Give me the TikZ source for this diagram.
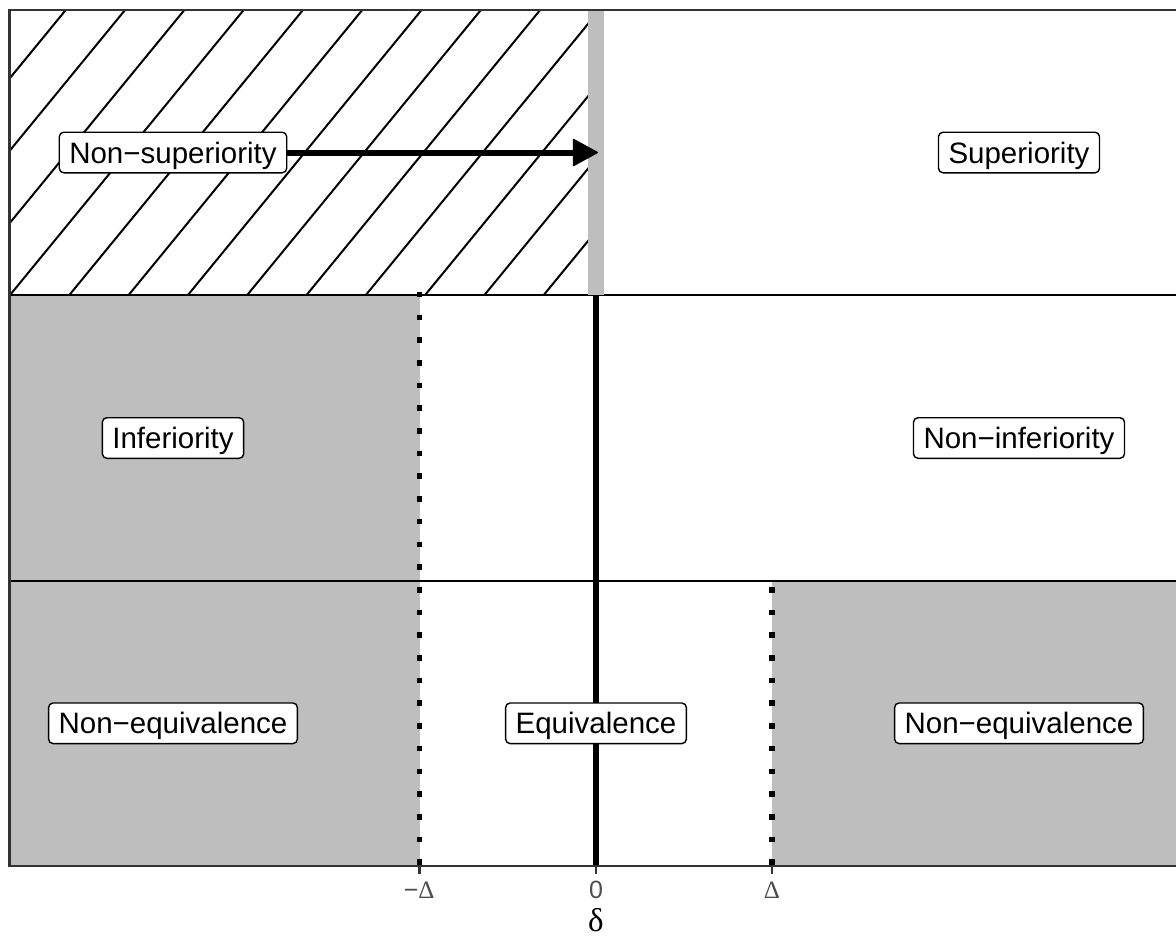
\documentclass[tikz,border=0pt]{standalone}
\usepackage{fontspec}
\setmainfont{Liberation Sans}
\newfontfamily\greekserif{Liberation Serif}
\usetikzlibrary{arrows.meta}
\definecolor{fillgray}{HTML}{BEBEBE}
\definecolor{bordergray}{HTML}{333333}
\definecolor{ticktext}{HTML}{4D4D4D}
\begin{document}
\begin{tikzpicture}[x=1pt,y=-1pt,
  lab/.style={draw=black, line width=1.4pt, fill=white, rounded corners=4.5pt,
    font=\fontsize{29.5}{35}\selectfont, text height=21.2pt, text depth=0pt,
    inner xsep=10pt, inner ysep=9.7pt},
  ticklab/.style={text=ticktext, font=\fontsize{25}{30}\selectfont, anchor=base, inner sep=0pt},
  dotline/.style={line width=5.67pt, dash pattern=on 5.67pt off 17.03pt},
  hatch/.style={line width=2pt, black},
  divider/.style={line width=2.2pt, black},
  tickmark/.style={line width=2.2pt, bordergray}]
\useasboundingbox (0,0) rectangle (1176,940);
% shaded regions
\fill[fillgray] (9.5,295.3) rectangle (419.5,866);
\fill[fillgray] (772.3,580.7) rectangle (1182,866);
% hatching
\begin{scope}
  \clip (9.5,10) rectangle (596,295.3);
  \foreach \m in {-5,...,10}
    \draw[hatch] ({9.8+59.3*\m-10},307.5) -- ++(260,-317.2);
\end{scope}
% dividers
\draw[divider] (9.5,295.3) -- (1182,295.3);
\draw[divider] (9.5,580.7) -- (1182,580.7);
\draw[line width=5.5pt, black] (596,295.3) -- (596,866);
\draw[dotline] (419.5,291.8) -- (419.5,866);
\draw[dotline] (772.3,586.9) -- (772.3,866);
\draw[line width=16pt, fillgray] (596,10) -- (596,295.3);
% panel border
\draw[line width=2.5pt, bordergray] (1182,10) -- (9.5,10) -- (9.5,866) -- (1182,866);
% ticks
\draw[tickmark] (419.5,866) -- (419.5,873.5);
\draw[tickmark] (596,866) -- (596,873.5);
\draw[tickmark] (772.3,866) -- (772.3,873.5);
\node[ticklab] (tm) at (419.2,898.3) {−{\greekserif Δ}};
\node[ticklab] (t0) at (596,898.3) {0};
\node[ticklab] (tp) at (772,898.3) {{\greekserif Δ}};
\node[anchor=base, inner sep=0pt, font=\greekserif\fontsize{33}{38}\selectfont] (xtitle) at (596,931) {δ};
% labels
\node[lab] (nonsup) at (173,152.5) {Non−superiority};
\node[lab] (sup) at (1019,152.5) {Superiority};
\node[lab] (inf) at (173,438) {Inferiority};
\node[lab] (noninf) at (1019,438) {Non−inferiority};
\node[lab] (noneqL) at (173,723.3) {Non−equivalence};
\node[lab] (eq) at (596,723.3) {Equivalence};
\node[lab] (noneqR) at (1019,723.3) {Non−equivalence};
% arrow
\coordinate (tip) at (598,152.5);
\draw[line width=6pt, -{Triangle[length=26pt,width=28pt,line width=1.5pt,round]}] (nonsup.east) -- (tip);
\end{tikzpicture}
\end{document}
